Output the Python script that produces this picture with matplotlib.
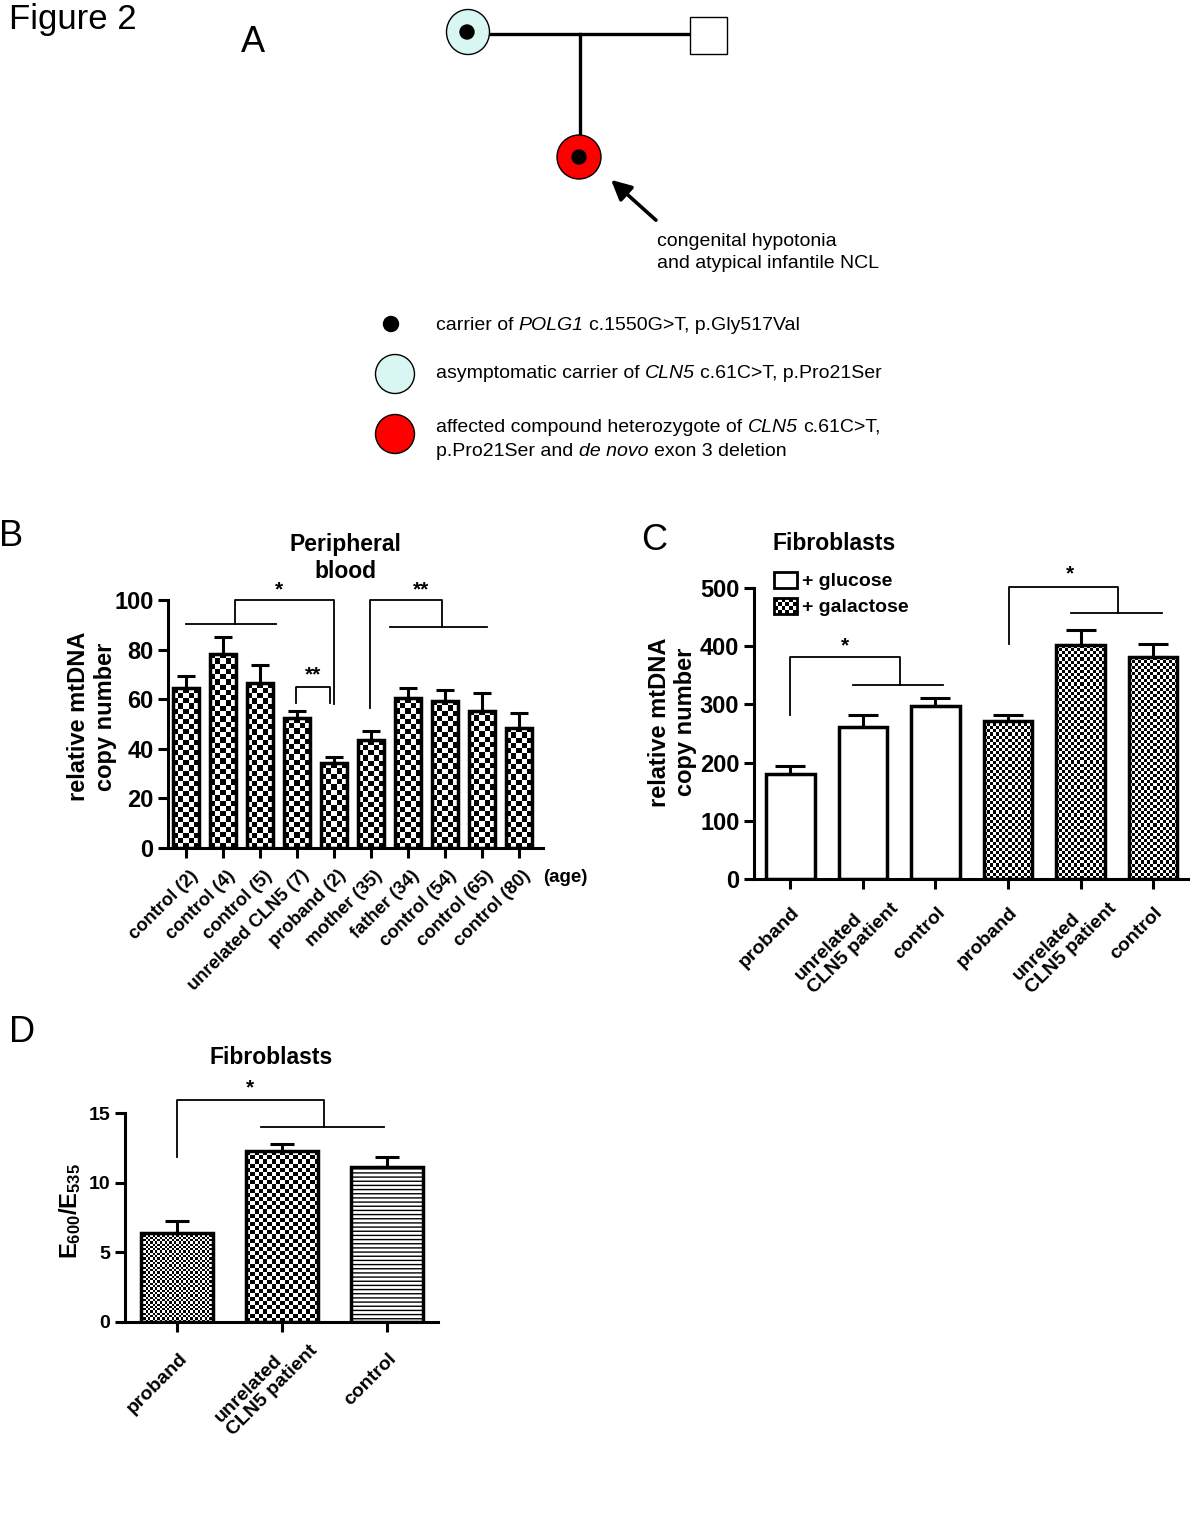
import numpy as np
import matplotlib
matplotlib.use("Agg")
import matplotlib.pyplot as plt
import matplotlib.transforms as mtransforms
from matplotlib.patches import Ellipse, Rectangle, FancyArrowPatch

# ---------------------------------------------------------------------------
# Data
# ---------------------------------------------------------------------------
blood_labels = ["control (2)", "control (4)", "control (5)", "unrelated CLN5 (7)",
                "proband (2)", "mother (35)", "father (34)", "control (54)",
                "control (65)", "control (80)"]
blood_mean = [64.4, 78.4, 66.4, 52.4, 34.2, 43.4, 60.4, 59.4, 55.4, 48.4]
blood_sem = [5.0, 6.5, 7.2, 2.9, 2.5, 3.6, 4.0, 4.5, 6.9, 6.0]

fibro_labels = ["proband", "unrelated\nCLN5 patient", "control"]
glucose_mean = [181, 261, 297]
glucose_sem = [12.5, 21.5, 14]
galactose_mean = [272, 402, 381]
galactose_sem = [10.5, 26, 22]

ratio_mean = [6.4, 12.25, 11.1]
ratio_sem = [0.86, 0.5, 0.77]

W, H = 1200, 1537
plt.rcParams["font.family"] = ["Liberation Sans", "DejaVu Sans"]
plt.rcParams["mathtext.fontset"] = "custom"
plt.rcParams["mathtext.rm"] = "Liberation Sans"
plt.rcParams["mathtext.it"] = "Liberation Sans:italic"
plt.rcParams["mathtext.bf"] = "Liberation Sans:bold"

fig = plt.figure(figsize=(W / 100, H / 100), dpi=100)
renderer = fig.canvas.get_renderer()

# overlay in pixel coordinates for pedigree, panel letters, legends
ov = fig.add_axes([0, 0, 1, 1])
ov.set_xlim(0, W)
ov.set_ylim(H, 0)
ov.axis("off")
ov.set_autoscale_on(False)


def px_axes(l, t, r, b):
    return fig.add_axes([l / W, 1 - b / H, (r - l) / W, (b - t) / H])


def style_axes(ax, tick_size):
    for s in ("top", "right"):
        ax.spines[s].set_visible(False)
    for s in ("left", "bottom"):
        ax.spines[s].set_linewidth(2.2)
    ax.tick_params(axis="both", width=2.2, length=7, labelsize=tick_size)
    for lab in ax.get_yticklabels():
        lab.set_fontweight("bold")
    ax.patch.set_alpha(0)


def rotated_labels(ax, xs, labels, size, single_off, multi_off):
    """Slanted category labels below the x axis (offsets in pixels: right, down)."""
    ax.set_xticks(xs)
    ax.set_xticklabels([])
    base = mtransforms.blended_transform_factory(ax.transData, ax.transAxes)
    for x, lab in zip(xs, labels):
        dx, dy = multi_off if "\n" in lab else single_off
        tr = base + mtransforms.ScaledTranslation(dx / 100, -dy / 100, fig.dpi_scale_trans)
        ax.text(x, 0, lab, transform=tr, rotation=45, rotation_mode="anchor",
                ha="right", va="top", multialignment="left", linespacing=1.1,
                fontsize=size, fontweight="bold")


def checker_fill(ax, bars, cell_px):
    """Paint a black/white checkerboard inside each bar."""
    ax.set_autoscale_on(False)
    for rect in bars:
        x0, w, h = rect.get_x(), rect.get_width(), rect.get_height()
        (px0, py0), (px1, py1) = ax.transData.transform([(x0, 0), (x0 + w, h)])
        nx = max(1, int(round(abs(px1 - px0) / cell_px)))
        ny = max(1, int(round(abs(py1 - py0) / cell_px)))
        img = np.indices((ny, nx)).sum(axis=0) % 2
        ax.imshow(img, cmap="gray", vmin=0, vmax=1, extent=(x0, x0 + w, 0, h),
                  aspect="auto", interpolation="nearest", zorder=1)


def bracket(ax, pts, star=None, star_xy=None, fs=15):
    xs, ys = zip(*pts)
    ax.plot(xs, ys, color="k", lw=1.3, clip_on=False, zorder=4)
    if star:
        ax.text(star_xy[0], star_xy[1], star, ha="center", va="center",
                fontsize=fs, fontweight="bold", clip_on=False)


def rich_text(x, y, parts, size=14):
    """Write a line made of (text, italic) pieces one after another."""
    def width(s, style):
        t = ov.text(0, 0, s, fontsize=size, style=style)
        w = t.get_window_extent(renderer).width
        t.remove()
        return w
    space = width("a a", "normal") - width("aa", "normal")
    for s, italic in parts:
        style = "italic" if italic else "normal"
        x += space * (len(s) - len(s.lstrip(" ")))
        core = s.strip(" ")
        t = ov.text(x, y, core, fontsize=size, style=style, va="center")
        x += t.get_window_extent(renderer).width
        x += space * (len(s) - len(s.rstrip(" ")))


# ---------------------------------------------------------------------------
# Panel A: pedigree
# ---------------------------------------------------------------------------
ov.text(9, 20, "Figure 2", fontsize=25, va="center", ha="left")
ov.text(241, 42, "A", fontsize=26, va="center", ha="left")

ov.plot([489, 690], [34, 34], color="k", lw=2.4)
ov.plot([580, 580], [34, 136], color="k", lw=2.4)
ov.add_patch(Ellipse((468, 32), 43, 45, fc="#d8f7f2", ec="k", lw=1.0, zorder=3))
ov.add_patch(Ellipse((467, 32), 14, 14, fc="k", ec="k", zorder=4))
ov.add_patch(Rectangle((690, 17), 37, 37, fc="white", ec="k", lw=1.0, zorder=3))
ov.add_patch(Ellipse((579, 157), 44, 44, fc="#ff0000", ec="k", lw=1.0, zorder=3))
ov.add_patch(Ellipse((579, 157), 14, 14, fc="k", ec="k", zorder=4))
ov.add_patch(FancyArrowPatch((658, 222), (609, 178), arrowstyle="-|>,head_length=8,head_width=4",
                             color="k", lw=2.6, mutation_scale=1.5))
ov.text(657, 241, "congenital hypotonia", fontsize=14, va="center")
ov.text(657, 264, "and atypical infantile NCL", fontsize=14, va="center")

ov.add_patch(Ellipse((391, 324), 15, 15, fc="k", ec="k"))
ov.add_patch(Ellipse((395, 374), 39, 39, fc="#d8f7f2", ec="k", lw=1.0))
ov.add_patch(Ellipse((395, 434), 39, 39, fc="#ff0000", ec="k", lw=1.0))
rich_text(436, 325, [("carrier of ", False), ("POLG1", True), (" c.1550G>T, p.Gly517Val", False)])
rich_text(436, 373, [("asymptomatic carrier of ", False), ("CLN5", True),
                     (" c.61C>T, p.Pro21Ser", False)])
rich_text(436, 427, [("affected compound heterozygote of ", False), ("CLN5", True),
                     (" c.61C>T,", False)])
rich_text(436, 451, [("p.Pro21Ser and ", False), ("de novo", True), (" exon 3 deletion", False)])

# ---------------------------------------------------------------------------
# Panel B: peripheral blood
# ---------------------------------------------------------------------------
ov.text(-1, 537, "B", fontsize=26, va="center")
axb = px_axes(168, 600, 543, 848)
xb = np.arange(len(blood_mean))
axb.set_xlim(-0.49, 9.65)
axb.set_ylim(0, 100)
bars_b = axb.bar(xb, blood_mean, 0.7, facecolor="none", edgecolor="k", lw=2.5, zorder=2)
checker_fill(axb, bars_b, 5.2)
axb.errorbar(xb, blood_mean, yerr=[np.zeros(len(xb)), blood_sem], fmt="none",
             ecolor="k", elinewidth=2.2, capsize=6.5, capthick=2.2, zorder=3)
axb.set_yticks([0, 20, 40, 60, 80, 100])
style_axes(axb, 17)
rotated_labels(axb, xb, blood_labels, 13.2, (3, 19), (3, 19))
axb.set_ylabel("relative mtDNA\ncopy number", fontsize=17, fontweight="bold")
axb.yaxis.set_label_coords(-0.136, 0.53)
ov.text(345, 545, "Peripheral", fontsize=16.5, fontweight="bold", ha="center", va="center")
ov.text(345, 572, "blood", fontsize=16.5, fontweight="bold", ha="center", va="center")
bracket(axb, [(0, 90.3), (2.42, 90.3)])
bracket(axb, [(1.31, 90.3), (1.31, 100), (3.99, 100), (3.99, 58.2)], "*", (2.52, 104))
bracket(axb, [(2.98, 58.6), (2.98, 65.1), (3.88, 65.1), (3.88, 58.6)], "**", (3.43, 70))
bracket(axb, [(4.98, 56.6), (4.98, 100), (6.93, 100), (6.93, 89)], "**", (6.36, 104))
bracket(axb, [(5.5, 89), (8.13, 89)])
ov.text(543, 877, "(age)", fontsize=13.5, fontweight="bold", va="center")

# ---------------------------------------------------------------------------
# Panel C: fibroblasts mtDNA
# ---------------------------------------------------------------------------
ov.text(641, 540, "C", fontsize=26, va="center")
axc = px_axes(754, 588, 1188, 879)
xg = np.arange(3)
xa = np.arange(3, 6)
axc.set_xlim(-0.5, 5.48)
axc.set_ylim(0, 500)
axc.bar(xg, glucose_mean, 0.67, facecolor="white", edgecolor="k", lw=2.5, zorder=2)
bars_c = axc.bar(xa, galactose_mean, 0.67, facecolor="none", edgecolor="k", lw=2.5, zorder=2)
checker_fill(axc, bars_c, 3.1)
axc.errorbar(xg, glucose_mean, yerr=[np.zeros(3), glucose_sem], fmt="none",
             ecolor="k", elinewidth=2.2, capsize=10.5, capthick=2.2, zorder=3)
axc.errorbar(xa, galactose_mean, yerr=[np.zeros(3), galactose_sem], fmt="none",
             ecolor="k", elinewidth=2.2, capsize=10.5, capthick=2.2, zorder=3)
axc.set_yticks([0, 100, 200, 300, 400, 500])
style_axes(axc, 17)
rotated_labels(axc, np.arange(6), fibro_labels * 2, 14, (1, 25), (14, 8))
axc.set_ylabel("relative mtDNA\ncopy number", fontsize=17, fontweight="bold")
axc.yaxis.set_label_coords(-0.131, 0.54)
ov.text(772, 543, "Fibroblasts", fontsize=16.5, fontweight="bold", va="center")
bracket(axc, [(0, 282.5), (0, 381), (1.51, 381), (1.51, 334)], "*", (0.75, 401))
bracket(axc, [(0.87, 334), (2.11, 334)])
bracket(axc, [(3.01, 404), (3.01, 502), (4.52, 502), (4.52, 457)], "*", (3.86, 525))
bracket(axc, [(3.87, 457), (5.12, 457)])

# legend for C
ov.add_patch(Rectangle((774, 572), 23, 16, fc="white", ec="k", lw=2.0, zorder=3))
ov.imshow(np.indices((4, 6)).sum(axis=0) % 2, cmap="gray", vmin=0, vmax=1,
          extent=(774, 797, 614, 598), aspect="auto", interpolation="nearest", zorder=2)
ov.add_patch(Rectangle((774, 598), 23, 16, fc="none", ec="k", lw=2.0, zorder=3))
ov.set_xlim(0, W)
ov.set_ylim(H, 0)
ov.text(802, 581, "+ glucose", fontsize=14, fontweight="bold", va="center")
ov.text(802, 607, "+ galactose", fontsize=14, fontweight="bold", va="center")

# ---------------------------------------------------------------------------
# Panel D: fibroblasts E600/E535
# ---------------------------------------------------------------------------
ov.text(9, 1033, "D", fontsize=26, va="center")
axd = px_axes(125, 1113, 438, 1322)
xd = np.arange(3)
axd.set_xlim(-0.5, 2.49)
axd.set_ylim(0, 15)
bars_d = axd.bar(xd, ratio_mean, 0.69, facecolor="none", edgecolor="k", lw=2.5, zorder=2)
checker_fill(axd, [bars_d[0]], 2.3)
checker_fill(axd, [bars_d[1]], 4.2)
bars_d[2].set_facecolor("white")
bars_d[2].set_hatch("----")
axd.errorbar(xd, ratio_mean, yerr=[np.zeros(3), ratio_sem], fmt="none",
             ecolor="k", elinewidth=2.2, capsize=8.4, capthick=2.2, zorder=3)
axd.set_yticks([0, 5, 10, 15])
style_axes(axd, 14)
rotated_labels(axd, xd, fibro_labels, 14, (1, 28), (14, 7))
axd.set_ylabel(r"$\mathbf{E_{600}/E_{535}}$", fontsize=17)
axd.yaxis.set_label_coords(-0.134, 0.53)
ov.text(271, 1058, "Fibroblasts", fontsize=16.5, fontweight="bold", ha="center", va="center")
bracket(axd, [(0, 11.84), (0, 15.93), (1.40, 15.93), (1.40, 13.97)], "*", (0.69, 16.8))
bracket(axd, [(0.8, 13.97), (1.97, 13.97)])

fig.savefig("out.png", dpi=100)
